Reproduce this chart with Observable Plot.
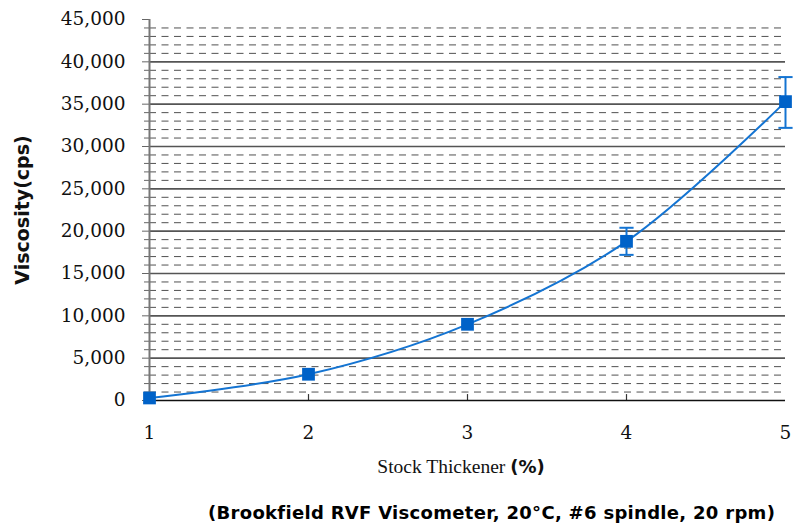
<!DOCTYPE html>
<html>
<head>
<meta charset="utf-8">
<script src="https://cdn.jsdelivr.net/npm/d3@7"></script>
<script src="https://cdn.jsdelivr.net/npm/@observablehq/plot@0.6"></script>
<style>
  body { margin: 0; background: #fff; }
  #chart { position: relative; width: 793px; }
  #caption { font-family: "DejaVu Sans", sans-serif; font-weight: bold; font-size: 18px; letter-spacing: 0.3px; color: #000; padding-left: 208px; margin-top: 17px; white-space: nowrap; }
</style>
</head>
<body>
<div id="chart"></div>
<div id="caption">(Brookfield RVF Viscometer, 20°C, #6 spindle, 20 rpm)</div>
<script>
const thickener = [1, 2, 3, 4, 5];
const viscosity = [300, 3100, 9000, 18800, 35300];
const errLow = [300, 3100, 9000, 17200, 32200];
const errHigh = [300, 3100, 9000, 20400, 38200];
const hasError = [false, false, false, true, true];
const yMajorTicks = d3.range(0, 45001, 5000);
const yMinorTicks = d3.range(0, 45001, 1000).filter(v => v % 5000 !== 0);
const xTicks = [1, 2, 3, 4, 5];

const data = thickener.map((x, i) => ({x, y: viscosity[i], lo: errLow[i], hi: errHigh[i], err: hasError[i]}));
const errData = data.filter(d => d.err);

const capSymbol = {
  draw(ctx, size) {
    const w = Math.sqrt(size) / 2;
    ctx.moveTo(-w, 0);
    ctx.lineTo(w, 0);
  }
};
const blue = "#0062C8";

const plot = Plot.plot({
  width: 793,
  height: 485,
  marginLeft: 149,
  marginRight: 8,
  marginTop: 19,
  marginBottom: 85,
  style: {fontFamily: "DejaVu Serif, serif", background: "#fff", overflow: "visible"},
  x: {domain: [1, 5], ticks: xTicks},
  y: {domain: [0, 45000]},
  marks: [
    Plot.ruleY(yMinorTicks, {stroke: "#333", strokeWidth: 1, strokeDasharray: "7,5.5", strokeOpacity: 0.85}),
    Plot.ruleY(yMajorTicks.filter(v => v > 0 && v < 45000), {stroke: "#555", strokeWidth: 1.6}),
    Plot.axisY({ticks: yMinorTicks, tickSize: 5, tickFormat: () => "", stroke: "#666", label: null}),
    Plot.axisY({ticks: yMajorTicks, tickSize: 7, tickPadding: 17, tickFormat: d3.format(","), fontSize: 18.5, fill: "#111", stroke: "#666", label: null}),
    Plot.axisX({ticks: xTicks, tickSize: 0, tickPadding: 25, tickFormat: d3.format("d"), fontSize: 18.5, fill: "#111", label: null}),
    Plot.ruleX(xTicks.slice(1, 4), {y1: 0, y2: 700, stroke: "#333", strokeWidth: 1.2}),
    Plot.ruleX([1], {stroke: "#777", strokeWidth: 2}),
    Plot.ruleY([0], {stroke: "#111", strokeWidth: 1.5}),
    Plot.line(data, {x: "x", y: "y", curve: "catmull-rom", stroke: "#1474D2", strokeWidth: 2}),
    Plot.ruleX(errData, {x: "x", y1: "lo", y2: "hi", stroke: "#1474D2", strokeWidth: 2}),
    Plot.dot(errData, {x: "x", y: "lo", symbol: capSymbol, r: 8, stroke: "#1474D2", strokeWidth: 2}),
    Plot.dot(errData, {x: "x", y: "hi", symbol: capSymbol, r: 8, stroke: "#1474D2", strokeWidth: 2}),
    Plot.dot(data, {x: "x", y: "y", symbol: "square", r: 7.2, fill: blue, stroke: "none"})
  ]
});

const svg = d3.select(plot);
svg.append("text")
  .attr("transform", "translate(29,210) rotate(-90)")
  .attr("text-anchor", "middle")
  .attr("font-family", "DejaVu Sans, sans-serif")
  .attr("font-weight", "bold")
  .attr("font-size", 19)
  .attr("fill", "#111")
  .text("Viscosity(cps)");
const xl = svg.append("text")
  .attr("x", 461)
  .attr("y", 473)
  .attr("text-anchor", "middle")
  .attr("fill", "#111");
xl.append("tspan").attr("font-family", "Liberation Serif, serif").attr("font-size", 19.5).text("Stock Thickener ");
xl.append("tspan").attr("font-family", "DejaVu Sans, sans-serif").attr("font-weight", "bold").attr("font-size", 18).text("(%)");

document.getElementById("chart").appendChild(plot);
</script>
</body>
</html>
